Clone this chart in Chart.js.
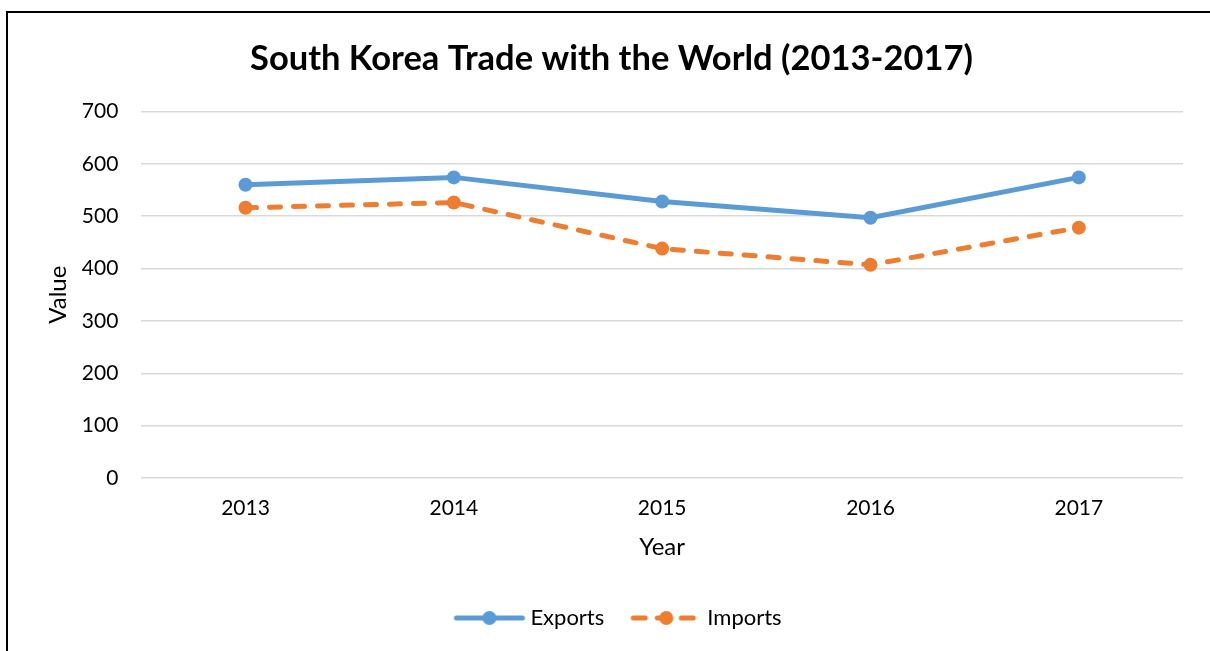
<!DOCTYPE html>
<html>
<head>
<meta charset="utf-8">
<script src="https://cdn.jsdelivr.net/npm/chart.js@4"></script>
<style>
  html, body { margin: 0; padding: 0; background: #fff; }
  #wrap { position: relative; width: 1210px; height: 651px; overflow: hidden; }
  #frame { position: absolute; left: 6px; top: 11px; width: 1400px; height: 800px;
           border-left: 2px solid #000; border-top: 2px solid #000; pointer-events: none; }
  canvas { position: absolute; left: 0; top: 0; }
</style>
</head>
<body>
<div id="wrap">
  <canvas id="myChart" width="1210" height="651"></canvas>
  <div id="frame"></div>
</div>
<script>
const years = ['2013', '2014', '2015', '2016', '2017'];
const exportsData = [560, 574, 528, 497, 574];
const importsData = [516, 526, 438, 407, 478];
const yTicks = [0, 100, 200, 300, 400, 500, 600, 700];

const blue = '#5b9bd5';
const orange = '#ed7d31';
const fontName = 'Lato, "Open Sans", sans-serif';

// little legend pictures: line with a marker, shifted right inside the image
// so that it sits close to its label
function legendIcon(color, dash) {
    const c = document.createElement('canvas');
    c.width = 94; c.height = 18;
    const g = c.getContext('2d');
    g.strokeStyle = color;
    g.fillStyle = color;
    g.lineWidth = 5;
    g.lineCap = 'round';
    g.setLineDash(dash);
    g.beginPath();
    g.moveTo(23, 9);
    g.lineTo(89, 9);
    g.stroke();
    g.beginPath();
    g.arc(56, 9, 7, 0, Math.PI * 2);
    g.fill();
    return c;
}
const exportsIcon = legendIcon(blue, []);
const importsIcon = legendIcon(orange, [12, 12]);

const exportsSet = {
    label: 'Exports',
    data: exportsData,
    borderColor: blue,
    backgroundColor: blue,
    borderWidth: 5,
    pointRadius: 7,
    pointHoverRadius: 7,
    pointBorderWidth: 0,
    tension: 0
};

const importsSet = {
    label: 'Imports',
    data: importsData,
    borderColor: orange,
    backgroundColor: orange,
    borderWidth: 5,
    borderDash: [11, 13],
    borderCapStyle: 'round',
    pointRadius: 7,
    pointHoverRadius: 7,
    pointBorderWidth: 0,
    tension: 0
};

const config = {
    type: 'line',
    data: { labels: years, datasets: [exportsSet, importsSet] },
    options: {
        responsive: false,
        animation: false,
        layout: { padding: { left: 40, right: 27, top: 0, bottom: 12 } },
        plugins: {
            tooltip: { enabled: false },
            title: {
                display: true,
                text: 'South Korea Trade with the World (2013-2017)',
                color: '#000',
                font: { family: fontName, size: 34.5, weight: 'bold' },
                padding: { top: 38, bottom: 32 }
            },
            legend: {
                position: 'bottom',
                labels: {
                    color: '#000',
                    font: { family: fontName, size: 22 },
                    usePointStyle: true,
                    pointStyleWidth: 78,
                    padding: 14,
                    generateLabels: function(chart) {
                        return chart.data.datasets.map(function(ds, i) {
                            return {
                                text: ds.label,
                                pointStyle: i === 0 ? exportsIcon : importsIcon,
                                fontColor: '#000',
                                strokeStyle: ds.borderColor,
                                fillStyle: ds.backgroundColor,
                                lineWidth: 0,
                                hidden: false,
                                datasetIndex: i
                            };
                        });
                    }
                }
            }
        },
        scales: {
            x: {
                offset: true,
                grid: { display: false },
                border: { display: false },
                ticks: { color: '#000', font: { family: fontName, size: 21 }, padding: 10 },
                title: {
                    display: true,
                    text: 'Year',
                    color: '#000',
                    font: { family: fontName, size: 24 },
                    padding: { top: 2, bottom: 31 }
                }
            },
            y: {
                min: 0,
                max: 700,
                afterBuildTicks: function(axis) {
                    axis.ticks = yTicks.map(function(v) { return { value: v }; });
                },
                grid: { color: '#d9d9d9', lineWidth: 1.5, drawTicks: false },
                border: { display: false },
                ticks: { color: '#000', font: { family: fontName, size: 21 }, padding: 23 },
                title: {
                    display: true,
                    text: 'Value',
                    color: '#000',
                    font: { family: fontName, size: 24 },
                    padding: { top: 4, bottom: -14 }
                }
            }
        }
    }
};

const myChart = new Chart(document.getElementById('myChart'), config);
</script>
</body>
</html>
